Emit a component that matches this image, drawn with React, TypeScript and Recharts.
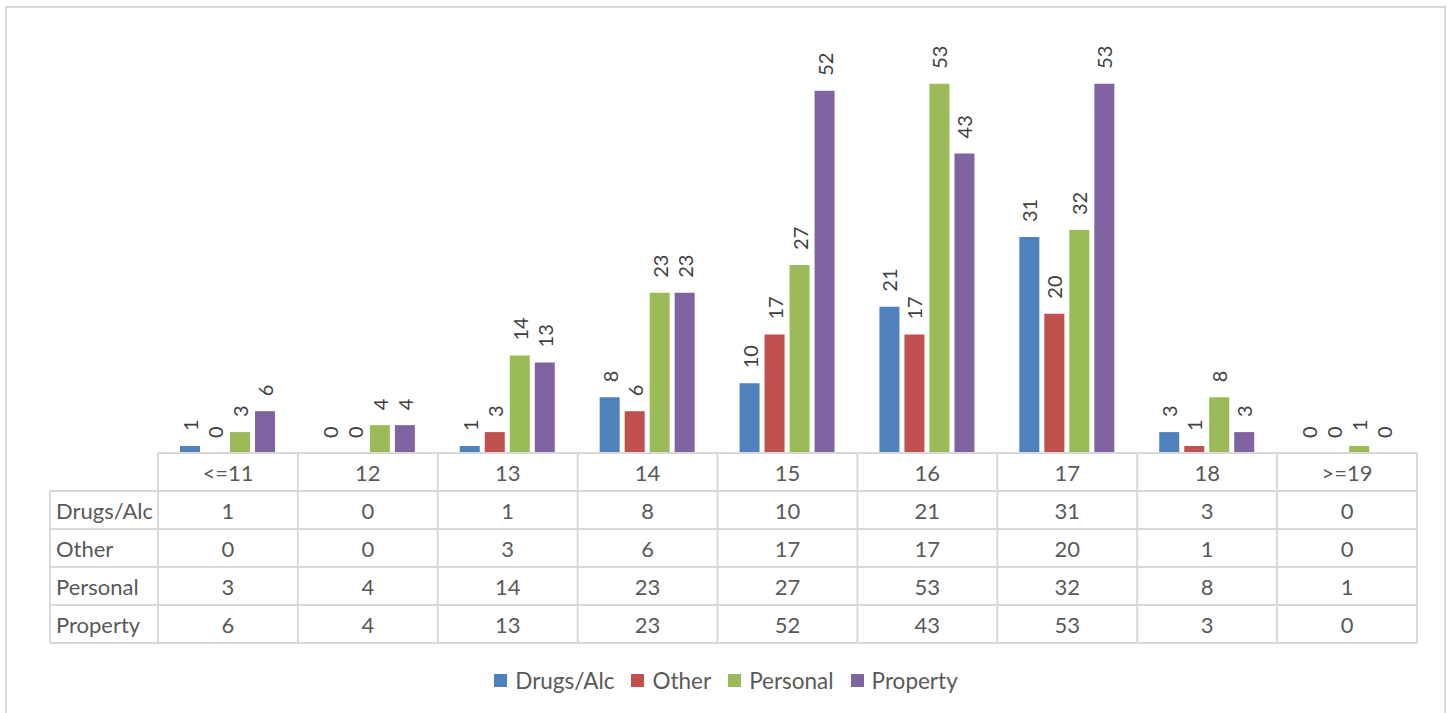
import React from "react";
import { BarChart, Bar, XAxis, YAxis, Legend, LabelList } from "recharts";

const categories = ["<=11", "12", "13", "14", "15", "16", "17", "18", ">=19"];
const drugsAlc = [1, 0, 1, 8, 10, 21, 31, 3, 0];
const other = [0, 0, 3, 6, 17, 17, 20, 1, 0];
const personal = [3, 4, 14, 23, 27, 53, 32, 8, 1];
const property = [6, 4, 13, 23, 52, 43, 53, 3, 0];

const seriesList = [
  { key: "Drugs/Alc", values: drugsAlc, color: "#4F81BD" },
  { key: "Other", values: other, color: "#C0504D" },
  { key: "Personal", values: personal, color: "#9BBB59" },
  { key: "Property", values: property, color: "#8064A2" },
];

const data = categories.map((c, i) => {
  const row: Record<string, string | number> = { name: c };
  seriesList.forEach((s) => (row[s.key] = s.values[i]));
  return row;
});

const W = 1452;
const H = 713;
const LEFT = 158;
const RIGHT = 35;
const ROW_H = 38;
const LABEL_COL = 108;
const colW = (W - LEFT - RIGHT) / categories.length;
const FONT = "Lato, 'Noto Sans', sans-serif";
const GRID = "#d9d9d9";
const TEXT = "#595959";
const TABLE_FS = 22;

function TableTick(props: any) {
  const { x, y, index } = props;
  const x0 = x - colW / 2;
  const x1 = x + colW / 2;
  const rows = seriesList.length + 1;
  const bottom = y + rows * ROW_H;
  const items: React.ReactNode[] = [];
  for (let r = 0; r <= rows; r++) {
    items.push(
      <line key={"h" + r} x1={x0} x2={x1} y1={y + r * ROW_H} y2={y + r * ROW_H} stroke={GRID} strokeWidth={2} />
    );
  }
  items.push(<line key="vl" x1={x0} x2={x0} y1={y} y2={bottom} stroke={GRID} strokeWidth={2} />);
  if (index === categories.length - 1) {
    items.push(<line key="vr" x1={x1} x2={x1} y1={y} y2={bottom} stroke={GRID} strokeWidth={2} />);
  }
  items.push(
    <text key="cat" x={x} y={y + ROW_H / 2} textAnchor="middle" dominantBaseline="central" fill={TEXT} fontSize={TABLE_FS} fontFamily={FONT}>
      {categories[index]}
    </text>
  );
  seriesList.forEach((s, r) => {
    items.push(
      <text key={"v" + r} x={x} y={y + (r + 1.5) * ROW_H} textAnchor="middle" dominantBaseline="central" fill={TEXT} fontSize={TABLE_FS} fontFamily={FONT}>
        {s.values[index]}
      </text>
    );
  });
  if (index === 0) {
    const lx = x0 - LABEL_COL;
    for (let r = 1; r <= rows; r++) {
      items.push(
        <line key={"lh" + r} x1={lx} x2={x0} y1={y + r * ROW_H} y2={y + r * ROW_H} stroke={GRID} strokeWidth={2} />
      );
    }
    items.push(<line key="lv" x1={lx} x2={lx} y1={y + ROW_H} y2={bottom} stroke={GRID} strokeWidth={2} />);
    seriesList.forEach((s, r) => {
      items.push(
        <text key={"l" + r} x={lx + 6} y={y + (r + 1.5) * ROW_H} dominantBaseline="central" fill={TEXT} fontSize={TABLE_FS} fontFamily={FONT}>
          {s.key}
        </text>
      );
    });
  }
  return <g>{items}</g>;
}

function RotLabel(props: any) {
  const { x, y, width, value } = props;
  const cx = x + width / 2;
  const cy = y - 15;
  return (
    <text x={cx} y={cy} transform={`rotate(-90 ${cx} ${cy})`} dominantBaseline="central" fill="#404040" fontSize={20} fontFamily={FONT}>
      {String(value)}
    </text>
  );
}

function LegendContent() {
  return (
    <div style={{ display: "flex", justifyContent: "center", alignItems: "center", height: 30, fontFamily: FONT, fontSize: 22.5, color: TEXT }}>
      {seriesList.map((s) => (
        <div key={s.key} style={{ display: "flex", alignItems: "center", margin: "0 8.5px" }}>
          <span style={{ width: 13, height: 13, background: s.color, display: "inline-block", marginRight: 8 }} />
          <span>{s.key}</span>
        </div>
      ))}
    </div>
  );
}

export default function App() {
  return (
    <div style={{ position: "absolute", left: 0, top: 0, width: W, height: H, background: "#fff", overflow: "hidden" }}>
      <div style={{ position: "absolute", left: 5, top: 6, width: 1441, height: 720, border: `2px solid ${GRID}`, boxSizing: "border-box" }} />
      <BarChart
        width={W}
        height={H}
        data={data}
        margin={{ top: 35, right: RIGHT, left: LEFT, bottom: 40 }}
        barCategoryGap={22}
        barGap={5}
      >
        <XAxis dataKey="name" height={190} axisLine={false} tickLine={false} tickSize={0} tickMargin={0} interval={0} tick={<TableTick />} />
        <YAxis hide domain={[0, 60]} />
        <Legend verticalAlign="bottom" wrapperStyle={{ bottom: 18, left: 0, width: W }} content={<LegendContent />} />
        {seriesList.map((s) => (
          <Bar
            key={s.key}
            dataKey={s.key}
            fill={s.color}
            isAnimationActive={false}
            minPointSize={(v: number) => (v === 0 ? 0.01 : 0)}
          >
            <LabelList dataKey={s.key} content={<RotLabel />} />
          </Bar>
        ))}
      </BarChart>
    </div>
  );
}
